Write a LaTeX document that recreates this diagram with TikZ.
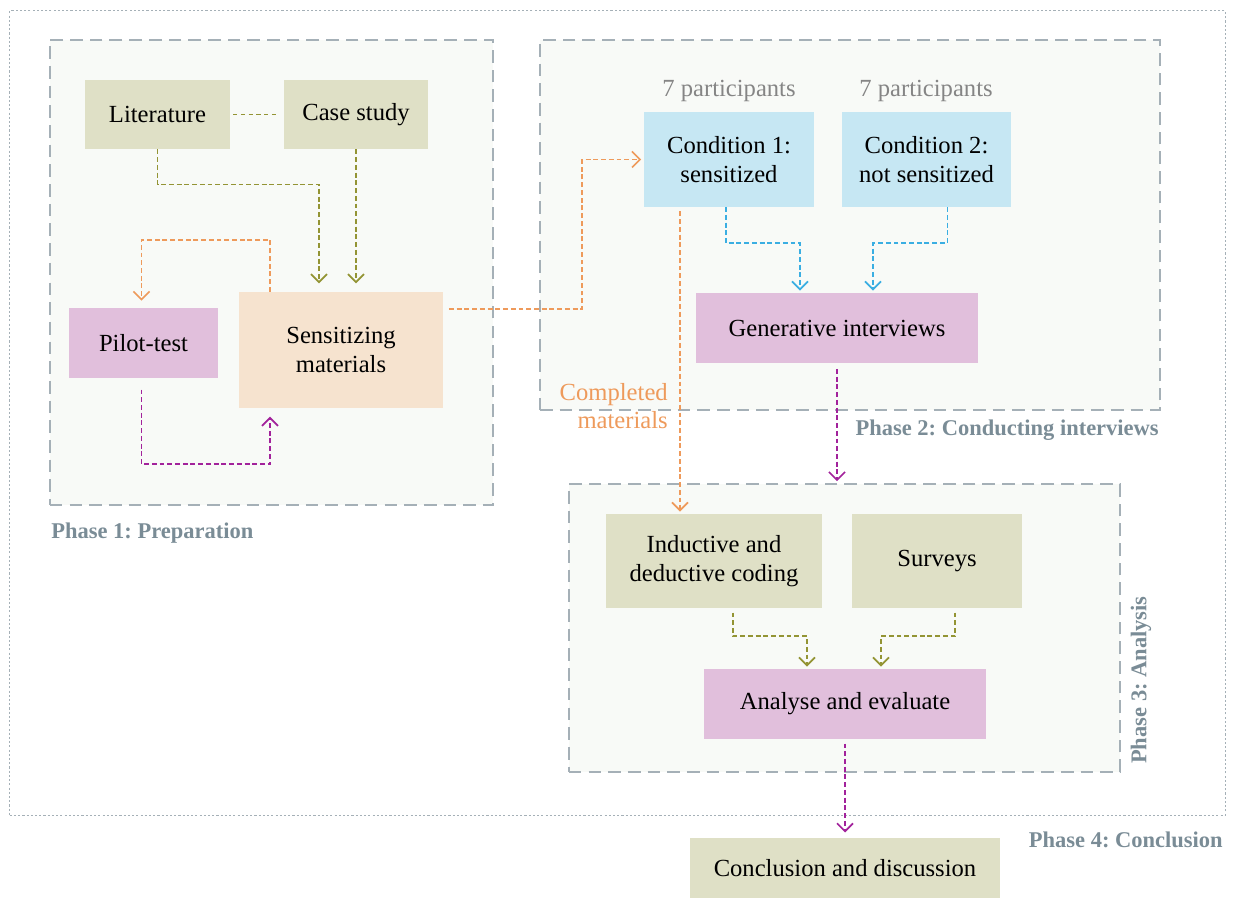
\documentclass[tikz,border=0pt]{standalone}
\usepackage{fontspec}
\setmainfont{Liberation Serif}
\usepackage{xcolor}
\usetikzlibrary{arrows.meta,calc}
\frenchspacing

\definecolor{boxolive}{HTML}{DFE0C6}
\definecolor{boxpink}{HTML}{E1BFDC}
\definecolor{boxpeach}{HTML}{F6E3CF}
\definecolor{boxblue}{HTML}{C6E7F3}
\definecolor{lineolive}{HTML}{939434}
\definecolor{lineorange}{HTML}{EE9A5B}
\definecolor{linepurple}{HTML}{A2229B}
\definecolor{lineblue}{HTML}{3AAEE2}
\definecolor{phasegrey}{HTML}{A5B0B7}
\definecolor{phasefill}{HTML}{F8FAF7}
\definecolor{phasetext}{HTML}{7A8C96}

\begin{document}
\begin{tikzpicture}[x=0.025cm, y=-0.025cm, >={Straight Barb[length=2mm, width=4mm]},
  every node/.style={font=\fontsize{17.5}{20.5}\selectfont, align=center, inner sep=0pt},
  phase/.style={draw=phasegrey, fill=phasefill, line width=1pt, dash pattern=on 9pt off 5pt},
  phaselabel/.style={text=phasetext, font=\fontsize{16}{19}\selectfont\bfseries},
  olivebox/.style={fill=boxolive}, pinkbox/.style={fill=boxpink},
  peachbox/.style={fill=boxpeach}, bluebox/.style={fill=boxblue},
  conn/.style={line width=1.2pt, dash pattern=on 3.5pt off 2pt, shorten >=1.5pt},
  oarrow/.style={conn, lineolive, ->}, rarrow/.style={conn, lineorange, ->},
  parrow/.style={conn, linepurple, ->}, barrow/.style={conn, lineblue, ->}]
  \useasboundingbox (0,0) rectangle (1235,899);

  % phase frames
  \node[draw=phasegrey, line width=0.6pt, dash pattern=on 1.5pt off 1.5pt,
        minimum width=30.38cm, minimum height=20.1cm] (p4) at (617.5,413) {};
  \node[phase, minimum width=11.08cm, minimum height=11.63cm] (p1) at (271.5,272.5) {};
  \node[phase, minimum width=15.5cm, minimum height=9.25cm] (p2) at (850,225) {};
  \node[phase, minimum width=13.78cm, minimum height=7.2cm] (p3) at (844.5,628) {};
  \node[phaselabel, anchor=west] (lab1) at (51,533) {Phase 1: Preparation};
  \node[phaselabel, anchor=east] (lab2) at (1159,430) {Phase 2: Conducting interviews};
  \node[phaselabel, rotate=90] (lab3) at (1141,680) {Phase 3: Analysis};
  \node[phaselabel, anchor=east] (lab4) at (1223,840) {Phase 4: Conclusion};

  % Phase 1: preparation
  \node[olivebox, minimum width=3.63cm, minimum height=1.73cm] (lit) at (157.5,114.5) {Literature};
  \node[olivebox, minimum width=3.6cm, minimum height=1.73cm] (case) at (356,114.5) {Case study};
  \node[peachbox, minimum width=5.1cm, minimum height=2.9cm] (sens) at (341,350) {Sensitizing\\materials};
  \node[pinkbox, minimum width=3.73cm, minimum height=1.75cm] (pilot) at (143.5,343) {Pilot-test};
  \draw[lineolive, line width=0.8pt, dash pattern=on 3pt off 2.5pt, shorten <=2pt, shorten >=5pt] (lit) -- (case);
  \draw[oarrow, shorten >=6pt] (lit.south) -- ++(0,35) -| ($(sens.north)+(-22,0)$);
  \draw[oarrow, shorten >=6pt] (case.south) -- (case.south |- sens.north);
  \draw[rarrow, shorten >=5pt] ($(sens.north)+(-71,0)$) -- ++(0,-52) -| ($(pilot.north)+(-2,0)$);
  \draw[parrow, shorten <=8pt, shorten >=6pt] ($(pilot.south)+(-2,0)$) -- ++(0,86) -| ($(sens.south)+(-71,0)$);

  % Phase 2: conducting interviews
  \node[bluebox, minimum width=4.27cm, minimum height=2.37cm] (cond1) at (729,159.5) {Condition 1:\\sensitized};
  \node[bluebox, minimum width=4.23cm, minimum height=2.37cm] (cond2) at (926.5,159.5) {Condition 2:\\not sensitized};
  \node[text=black!48] (n1) at (729,91) {7 participants};
  \node[text=black!48] (n2) at (926,91) {7 participants};
  \node[pinkbox, minimum width=7.05cm, minimum height=1.75cm] (gen) at (837,328) {Generative interviews};
  \draw[rarrow, shorten <=4pt] ($(sens.east)+(0,-41)$) -- ++(139,0) |- (cond1.west);
  \draw[barrow] ($(cond1.south)+(-3,0)$) -- ++(0,36) -| ($(gen.north)+(-37,0)$);
  \draw[barrow] ($(cond2.south)+(21,0)$) -- ++(0,36) -| ($(gen.north)+(36,0)$);
  \coordinate (mat) at ($(cond1.south)+(-49,0)$);
  \node[text=lineorange, anchor=east, align=right] (matlabel) at (668,406) {Completed\\materials};
  \draw[parrow, shorten <=4pt] (gen.south) -- (gen.south |- p3.north);

  % Phase 3: analysis
  \node[olivebox, minimum width=5.4cm, minimum height=2.35cm] (ind) at (714,561) {Inductive and\\deductive coding};
  \node[olivebox, minimum width=4.25cm, minimum height=2.35cm] (surv) at (937,561) {Surveys};
  \node[pinkbox, minimum width=7.05cm, minimum height=1.75cm] (anal) at (845,704) {Analyse and evaluate};
  \draw[rarrow, shorten <=3pt] (mat) -- (mat |- ind.north);
  \draw[oarrow, shorten <=3pt] ($(ind.south)+(19,0)$) -- ++(0,28) -| ($(anal.north)+(-38,0)$);
  \draw[oarrow, shorten <=3pt] ($(surv.south)+(18,0)$) -- ++(0,28) -| ($(anal.north)+(36,0)$);

  % Phase 4: conclusion
  \node[olivebox, minimum width=7.75cm, minimum height=1.48cm] (concl) at (845,868) {Conclusion and discussion};
  \draw[parrow, shorten <=3pt, shorten >=4pt] (anal.south) -- (concl.north);
\end{tikzpicture}
\end{document}
